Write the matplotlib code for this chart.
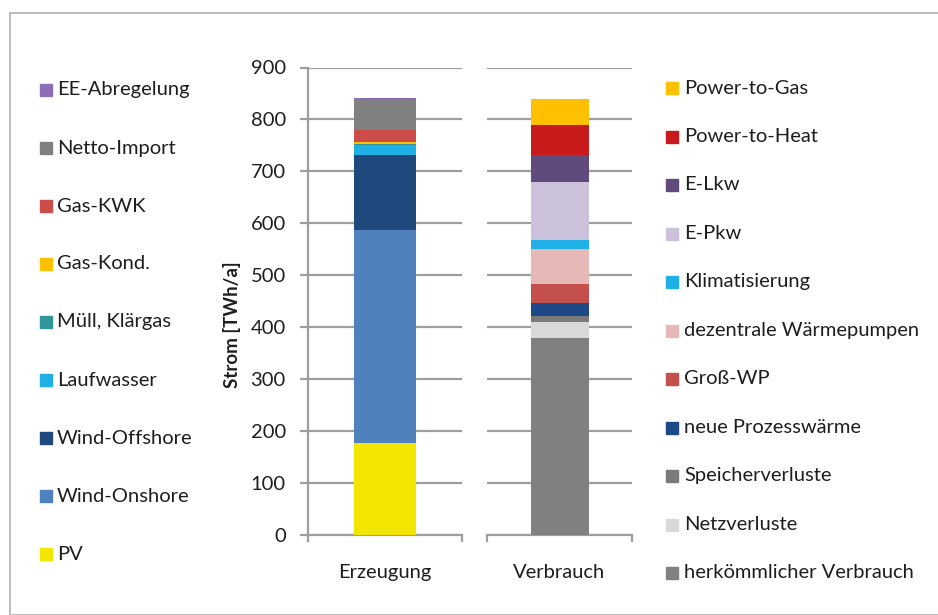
import numpy as np
import matplotlib.pyplot as plt
from matplotlib.patches import Rectangle

# Erzeugung (bottom to top)
gen_labels = ["PV", "Wind-Onshore", "Wind-Offshore", "Laufwasser", "Müll, Klärgas",
              "Gas-Kond.", "Gas-KWK", "Netto-Import", "EE-Abregelung"]
gen_values = [177, 410, 145, 18, 2, 5, 22, 60, 3]
gen_colors = ["#f2e600", "#4f81bd", "#1f497d", "#1fb0e6", "#31959c",
              "#ffc000", "#cc4c4a", "#808080", "#8f6cb8"]

# Verbrauch (bottom to top)
use_labels = ["herkömmlicher Verbrauch", "Netzverluste", "Speicherverluste",
              "neue Prozesswärme", "Groß-WP", "dezentrale Wärmepumpen",
              "Klimatisierung", "E-Pkw", "E-Lkw", "Power-to-Heat", "Power-to-Gas"]
use_values = [378, 32, 11, 25, 37, 67, 17, 112, 52, 59, 50]
use_colors = ["#808080", "#d9d9d9", "#7a7a7a", "#1d4a86", "#c4504d", "#e6b9b8",
              "#1fb0e6", "#ccc1da", "#604a7b", "#c81a1a", "#ffc000"]

categories = ["Erzeugung", "Verbrauch"]
yticks = np.arange(0, 901, 100)

plt.rcParams['font.family'] = ['Lato', 'DejaVu Sans']
TXT = "#1e1e1e"
GRID = "#9e9e9e"
FS = 14.5
W, H = 938, 615

fig = plt.figure(figsize=(W / 100, H / 100), dpi=100)

# thin frame around the chart area
fig.patches.append(Rectangle((10 / W, 0), 2, 1 - 13 / H, transform=fig.transFigure,
                             fill=False, edgecolor="#b8b8b8", linewidth=1.3))

bottom = (H - 534.5) / H
height = 467 / H
ax1 = fig.add_axes([308 / W, bottom, 154 / W, height])
ax2 = fig.add_axes([487 / W, bottom, 145 / W, height])


def stacked(ax, values, colors, label):
    base = 0
    for v, c in zip(values, colors):
        ax.bar(0, v, width=0.4, bottom=base, color=c, zorder=3)
        base += v
    ax.set_xlim(-0.5, 0.5)
    ax.set_ylim(0, 900)
    ax.set_yticks(yticks)
    ax.yaxis.grid(True, color=GRID, linewidth=1.6, zorder=0)
    ax.set_axisbelow(True)
    ax.set_xticks([-0.5, 0.5])
    ax.set_xticklabels([])
    ax.set_xticks([0], [label], minor=True)
    ax.tick_params(axis='x', which='major', direction='out', length=5,
                   width=1.6, color=GRID)
    ax.tick_params(axis='x', which='minor', length=0, pad=21,
                   labelsize=FS, labelcolor=TXT)
    for s in ['top', 'right']:
        ax.spines[s].set_visible(False)
    ax.spines['bottom'].set_color(GRID)
    ax.spines['bottom'].set_linewidth(1.6)


stacked(ax1, gen_values, gen_colors, categories[0])
stacked(ax2, use_values, use_colors, categories[1])

ax1.spines['left'].set_color(GRID)
ax1.spines['left'].set_linewidth(1.6)
ax1.tick_params(axis='y', direction='out', length=6, width=1.6, color=GRID,
                pad=10, labelsize=FS, labelcolor=TXT)

ax2.spines['left'].set_visible(False)
ax2.tick_params(axis='y', length=0, labelleft=False)

fig.text(232 / W, 1 - 325 / H, "Strom [TWh/a]", rotation=90, fontsize=13.5,
         fontweight='bold', color=TXT, ha='center', va='center')


def legend(labels, colors, x_box, x_txt, y_top, step):
    for i, (lab, c) in enumerate(zip(labels, colors)):
        y = y_top + i * step
        fig.patches.append(Rectangle((x_box / W, 1 - (y + 6) / H), 12 / W, 12 / H,
                                     transform=fig.transFigure, color=c))
        fig.text(x_txt / W, 1 - y / H, lab, fontsize=FS, color=TXT,
                 va='center', ha='left')


legend(gen_labels[::-1], gen_colors[::-1], 40, 57, 90, 58)
legend(use_labels[::-1], use_colors[::-1], 666, 684, 88, 48.5)

fig.savefig("out.png", dpi=100)
